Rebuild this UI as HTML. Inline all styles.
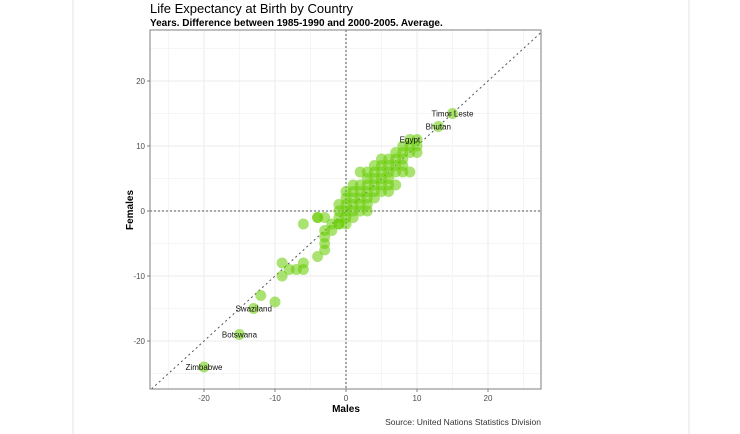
<!DOCTYPE html>
<html><head><meta charset="utf-8"><style>
body{margin:0;background:#fff;width:740px;height:434px;overflow:hidden;font-family:"Liberation Sans",sans-serif}
</style></head><body>
<svg id="c" width="740" height="434" style="position:absolute;left:0;top:0">
<line x1="73" y1="0" x2="73" y2="434" stroke="#e6e6e6"/>
<line x1="689" y1="0" x2="689" y2="434" stroke="#e6e6e6"/>
<text x="150" y="13" font-size="13" fill="#000">Life Expectancy at Birth by Country</text>
<text x="150" y="26" font-size="10" font-weight="bold" fill="#000">Years. Difference between 1985-1990 and 2000-2005. Average.</text>
<g id="grid"></g><g id="pts"></g><g id="ax"></g>
<text x="346" y="412" font-size="10" font-weight="bold" text-anchor="middle">Males</text>
<text transform="translate(133,210) rotate(-90)" font-size="10" font-weight="bold" text-anchor="middle">Females</text>
<text x="541" y="425" font-size="8.5" text-anchor="end" fill="#333">Source: United Nations Statistics Division</text>
</svg>
<script>
const xTicks=[-20,-10,0,10,20];
const yTicks=[-20,-10,0,10,20];
const malesX=[-20,-15,-13,-12,-10,-9,-9,-8,-7,-6,-6,-6,-4,-4,-3,-4,-3,-3,-3,-3,-2,-2,-1,-1,0,0,0,1,1,1,2,2,2,3,3,3,3,4,4,4,4,5,5,5,5,5,6,6,6,6,7,7,7,7,8,8,8,8,9,9,9,10,10,8,9,1,2,3,2,1,0,-1,-1,0,4,6,6,7,13,15,10,5,3,4,0,-1,1,2,3];
const femalesY=[-24,-19,-15,-13,-14,-8,-10,-9,-9,-9,-8,-2,-1,-1,-1,-7,-3,-4,-5,-6,-3,-2,-2,-1,0,1,2,0,1,2,1,2,3,0,2,3,4,2,3,4,5,3,4,5,6,7,4,5,6,7,4,6,7,8,6,7,8,9,6,9,10,9,10,10,11,3,4,6,6,4,-1,0,1,3,6,3,8,9,13,15,11,8,5,7,-2,-2,-1,0,1];
const labelNames=["Timor Leste","Bhutan","Egypt","Swaziland","Botswana","Zimbabwe"];
const labelX=[15,13,9,-13,-15,-20];
const labelY=[15,13,11,-15,-19,-24];
const L=150,R=541,T=30,B=389;
const sx=v=>346+v*7.1, sy=v=>211-v*6.5;
const NS="http://www.w3.org/2000/svg";
function mk(t,a,p){const e=document.createElementNS(NS,t);for(const k in a)e.setAttribute(k,a[k]);p.appendChild(e);return e;}
const g=document.getElementById('grid'),pg=document.getElementById('pts'),ax=document.getElementById('ax');
let bg=mk('rect',{x:L,y:T,width:R-L,height:B-T,fill:'#fff'},g);


for(let v=-25;v<=25;v+=5){
 const major=v%10===0;
 let a=mk('line',{x1:sx(v),x2:sx(v),y1:T,y2:B,stroke:major?'#ebebeb':'#f5f5f5','stroke-width':1},g);
 
 
 let b=mk('line',{x1:L,x2:R,y1:sy(v),y2:sy(v),stroke:major?'#ebebeb':'#f5f5f5','stroke-width':1},g);
 
 
}
const lo=Math.max((L-346)/7.1,(211-B)/6.5), hi=Math.min((R-346)/7.1,(211-T)/6.5);
let d=mk('line',{x1:sx(lo),y1:sy(lo),x2:sx(hi),y2:sy(hi),stroke:'#555','stroke-dasharray':'2,3'},g);


let zx=mk('line',{x1:sx(0),x2:sx(0),y1:T,y2:B,stroke:'#555','stroke-dasharray':'2,2'},g);


let zy=mk('line',{x1:L,x2:R,y1:sy(0),y2:sy(0),stroke:'#555','stroke-dasharray':'2,2'},g);


for(let i=0;i<malesX.length;i++){
 let c=mk('circle',{cx:sx(malesX[i]),cy:sy(femalesY[i]),r:5.5,fill:'#66cc00','fill-opacity':0.55},pg);
 
 
}
for(let i=0;i<labelNames.length;i++){
 let t=mk('text',{x:sx(labelX[i]),y:sy(labelY[i])+3,'font-size':8,'text-anchor':'middle',fill:'#111'},pg);
 t.textContent=labelNames[i];
 
 
}
let fr=mk('rect',{x:L,y:T,width:R-L,height:B-T,fill:'none',stroke:'#7f7f7f'},ax);


xTicks.forEach(v=>{
 mk('line',{x1:sx(v),x2:sx(v),y1:B,y2:B+3,stroke:'#7f7f7f'},ax);
 let t=mk('text',{x:sx(v),y:B+12,'font-size':8,'text-anchor':'middle',fill:'#4d4d4d'},ax);
 t.textContent=v;
 
 
});
yTicks.forEach(v=>{
 mk('line',{x1:L-3,x2:L,y1:sy(v),y2:sy(v),stroke:'#7f7f7f'},ax);
 let t=mk('text',{x:L-5,y:sy(v)+3,'font-size':8,'text-anchor':'end',fill:'#4d4d4d'},ax);
 t.textContent=v;
 
 
});
</script>
</body></html>
